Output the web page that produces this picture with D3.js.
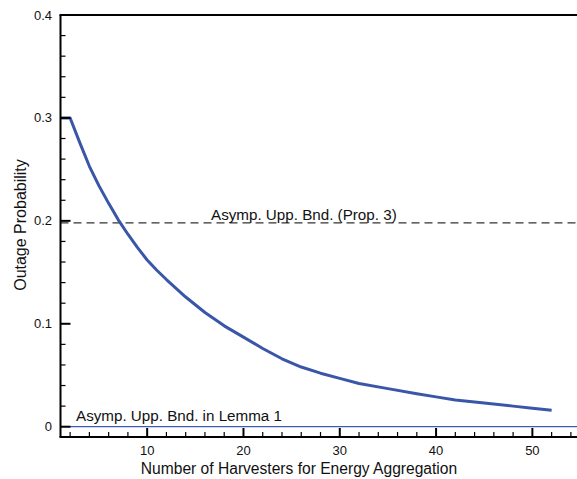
<!DOCTYPE html>
<html>
<head>
<meta charset="utf-8">
<script src="https://cdn.jsdelivr.net/npm/d3@7"></script>
<style>
  body { margin: 0; background: #fff; }
  svg { display: block; font-family: "Liberation Sans", Arial, Helvetica, sans-serif; }
</style>
</head>
<body>
<svg id="chart" width="577" height="479"></svg>
<script>
// Data
const harvesters = [1, 2, 3, 4, 5, 6, 7, 8, 9, 10, 11, 12, 14, 16, 18, 20, 22, 24, 26, 28, 30, 32, 35, 38, 40, 42, 45, 48, 50, 52];
const outageProb = [0.300, 0.300, 0.276, 0.253, 0.234, 0.217, 0.201, 0.187, 0.174, 0.162, 0.152, 0.143, 0.126, 0.111, 0.098, 0.087, 0.076, 0.066, 0.058, 0.052, 0.047, 0.042, 0.037, 0.032, 0.029, 0.026, 0.023, 0.020, 0.018, 0.016];
const propBound = 0.198;
const lemmaBound = 0;
const xMajorTicks = [10, 20, 30, 40, 50];
const yMajorTicks = [0, 0.1, 0.2, 0.3, 0.4];
const yTickLabels = ["0", "0.1", "0.2", "0.3", "0.4"];
const labels = {
  x: "Number of Harvesters for Energy Aggregation",
  y: "Outage Probability",
  prop: "Asymp. Upp. Bnd. (Prop. 3)",
  lemma: "Asymp. Upp. Bnd. in Lemma 1"
};

const svg = d3.select("#chart");
const W = 577;
const x = d3.scaleLinear().domain([1, 56]).range([60.5, 60.5 + 55 * 9.63]);
const y = d3.scaleLinear().domain([-0.01, 0.4]).range([437, 15]);
const x0 = x.range()[0], yB = y.range()[0], yT = y.range()[1];

const xMinor = d3.range(2, 57, 2).filter(v => !xMajorTicks.includes(v));
const yMinor = d3.range(0, 0.4001, 0.02).map(v => +v.toFixed(2)).filter(v => !yMajorTicks.some(m => Math.abs(m - v) < 1e-9));

const g = svg.append("g");

// lemma line (blue thin at 0)
g.append("line")
  .attr("x1", x0).attr("x2", W)
  .attr("y1", y(lemmaBound)).attr("y2", y(lemmaBound))
  .attr("stroke", "#3a5bb8").attr("stroke-width", 1.3);

// prop 3 dashed line
g.append("line")
  .attr("x1", x0).attr("x2", W)
  .attr("y1", y(propBound)).attr("y2", y(propBound))
  .attr("stroke", "#333").attr("stroke-width", 1.2)
  .attr("stroke-dasharray", "8,5");

// curve
const line = d3.line().x((d, i) => x(harvesters[i])).y(d => y(d)).curve(d3.curveLinear);
g.append("path")
  .datum(outageProb)
  .attr("d", line)
  .attr("fill", "none")
  .attr("stroke", "#3a56a8")
  .attr("stroke-width", 3)
  .attr("stroke-linejoin", "round");

// axes frame
const ax = svg.append("g").attr("stroke", "#000").attr("fill", "none");
ax.append("line").attr("x1", x0).attr("x2", x0).attr("y1", yT).attr("y2", yB).attr("stroke-width", 2);
ax.append("line").attr("x1", x0 - 1).attr("x2", W).attr("y1", yB).attr("y2", yB).attr("stroke-width", 2);
ax.append("line").attr("x1", x0 - 1).attr("x2", W).attr("y1", yT).attr("y2", yT).attr("stroke-width", 2);

// y ticks (inward)
ax.selectAll(".ymaj").data(yMajorTicks).enter().append("line")
  .attr("x1", x0).attr("x2", x0 + 10).attr("y1", d => y(d)).attr("y2", d => y(d)).attr("stroke-width", 2);
ax.selectAll(".ymin").data(yMinor).enter().append("line")
  .attr("x1", x0).attr("x2", x0 + 5).attr("y1", d => y(d)).attr("y2", d => y(d)).attr("stroke-width", 1.2);

// x ticks (inward)
ax.selectAll(".xmaj").data(xMajorTicks).enter().append("line")
  .attr("x1", d => x(d)).attr("x2", d => x(d)).attr("y1", yB).attr("y2", yB - 9).attr("stroke-width", 2);
ax.selectAll(".xmin").data(xMinor).enter().append("line")
  .attr("x1", d => x(d)).attr("x2", d => x(d)).attr("y1", yB).attr("y2", yB - 5).attr("stroke-width", 1.2);

// tick labels
svg.selectAll(".ylab").data(yMajorTicks).enter().append("text")
  .attr("x", 52).attr("y", d => y(d) + 4.5)
  .attr("text-anchor", "end").attr("font-size", 13).attr("fill", "#111")
  .text((d, i) => yTickLabels[i]);
svg.selectAll(".xlab").data(xMajorTicks).enter().append("text")
  .attr("x", d => x(d)).attr("y", 455)
  .attr("text-anchor", "middle").attr("font-size", 13).attr("fill", "#111")
  .text(d => d);

// axis titles
svg.append("text")
  .attr("x", 299).attr("y", 474)
  .attr("text-anchor", "middle").attr("font-size", 15.6).attr("fill", "#111")
  .text(labels.x);
svg.append("text")
  .attr("transform", "translate(26,225) rotate(-90)")
  .attr("text-anchor", "middle").attr("font-size", 16).attr("fill", "#111")
  .text(labels.y);

// annotations
svg.append("text")
  .attr("x", 211).attr("y", 220)
  .attr("font-size", 15.2).attr("fill", "#111")
  .text(labels.prop);
svg.append("text")
  .attr("x", 76).attr("y", 421)
  .attr("font-size", 15.2).attr("fill", "#111")
  .text(labels.lemma);
</script>
</body>
</html>
